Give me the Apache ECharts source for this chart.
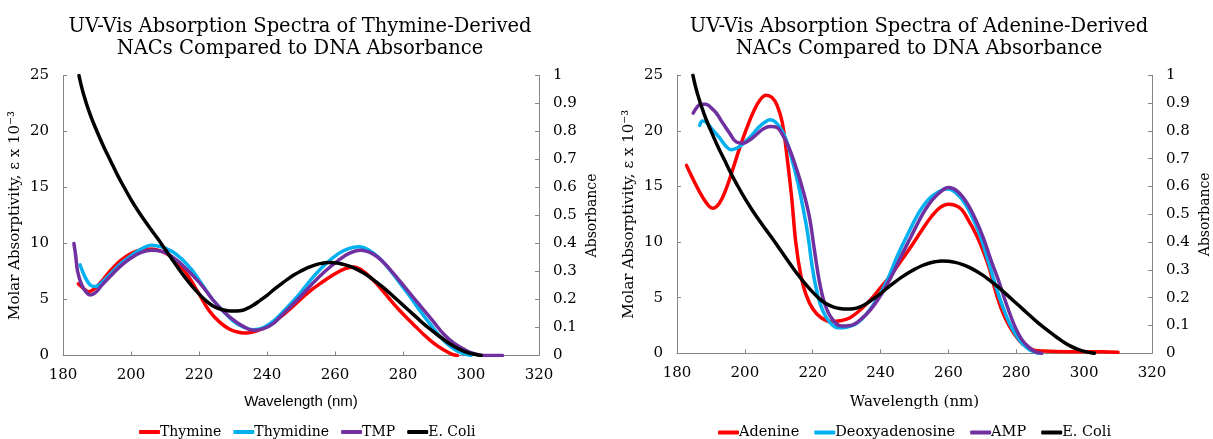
<!DOCTYPE html>
<html><head><meta charset="utf-8">
<script src="https://cdn.jsdelivr.net/npm/echarts@6/dist/echarts.min.js"></script>
<style>html,body{margin:0;padding:0;background:#fff}#c{width:1213px;height:439px}</style>
</head><body><div id="c"></div>
<script>
// ---- Data: [wavelength nm, molar absorptivity x10^-3] ----
const thymine = [[184.5,6.4],[186,6.0],[187.5,5.7],[189,5.9],[191,6.5],[194,7.6],[197,8.5],[200,9.1],[203,9.45],[205,9.5],[208,9.4],[211,9.0],[214,8.2],[217,7.0],[220,5.5],[223,4.0],[226,3.0],[229,2.35],[232,2.05],[234,2.0],[237,2.2],[240,2.6],[244,3.45],[248,4.5],[252,5.6],[256,6.5],[260,7.3],[263,7.75],[265.5,7.9],[268,7.6],[271,6.8],[274,5.8],[277,4.7],[280,3.7],[283,2.8],[286,1.9],[289,1.1],[292,0.5],[294.5,0.1],[296,0.0]];
const thymidine = [[185,8.1],[186.5,7.0],[188,6.3],[189.5,6.15],[191,6.4],[194,7.3],[197,8.2],[200,8.9],[203,9.5],[206,9.85],[209,9.7],[212,9.3],[215,8.6],[218,7.6],[221,6.3],[224,5.0],[227,4.0],[230,3.1],[233,2.55],[236,2.3],[239,2.5],[242,3.1],[245,4.0],[249,5.3],[253,6.8],[257,8.1],[261,9.1],[264,9.55],[267,9.7],[270,9.4],[273,8.7],[276,7.7],[279,6.5],[282,5.3],[285,4.0],[288,2.8],[291,1.65],[294,0.8],[297,0.25],[300,0.0]];
const tmp = [[183.2,10.0],[183.7,9.0],[184.3,7.5],[185.5,6.3],[187,5.6],[188,5.4],[189.5,5.6],[191.5,6.3],[194,7.1],[197,8.0],[200,8.7],[203,9.2],[206,9.4],[209,9.3],[212,8.85],[215,8.1],[218,7.2],[221,6.2],[224,5.0],[227,4.0],[230,3.2],[233,2.6],[236,2.25],[239,2.4],[242,2.9],[245,3.8],[249,5.0],[253,6.3],[257,7.5],[261,8.5],[264,9.1],[267.5,9.4],[271,9.1],[274,8.4],[277,7.4],[280,6.3],[283,5.2],[286,4.1],[289,3.0],[292,1.9],[295,1.1],[298,0.55],[300,0.25],[302.5,0.05],[305,0.0],[309.3,0.0]];
const adenine = [[182.8,16.9],[184.5,15.8],[186.5,14.6],[188.5,13.6],[190.5,13.05],[192.5,13.5],[194.5,14.8],[196.5,16.6],[198.5,18.5],[200.5,20.2],[202.5,21.7],[204.5,22.8],[206.3,23.2],[208,23.0],[209.5,22.3],[211,20.8],[212.5,17.5],[213.8,14.0],[215,10.0],[216.5,7.0],[218,5.3],[220,4.0],[222.5,3.2],[225.5,2.85],[228.5,2.95],[231,3.2],[234,3.9],[237,4.8],[240,5.9],[243,7.0],[246,8.3],[249,9.6],[252,11.0],[255,12.3],[257.5,13.1],[260,13.4],[262,13.3],[264,12.9],[266,11.9],[268,10.8],[270,9.4],[272,7.7],[273.5,6.0],[275,4.5],[277,3.0],[279.5,1.7],[282,0.8],[285,0.3],[288,0.2],[295,0.15],[305,0.15],[310,0.1]];
const deoxyadenosine = [[186.7,20.5],[187.5,20.9],[188.5,20.8],[190.5,20.1],[192.5,19.4],[194.5,18.6],[196,18.3],[198,18.5],[200,19.0],[202,19.6],[204,20.3],[206,20.8],[207.5,21.0],[209,20.8],[211,20.0],[212.5,18.9],[214,17.3],[215.5,15.5],[217,13.3],[218.5,10.8],[220,7.5],[221.5,5.2],[223,3.8],[225,2.8],[227.5,2.3],[230,2.35],[233,2.7],[236,3.6],[239,4.9],[242,6.6],[245,8.8],[248,10.7],[251,12.5],[254,13.8],[257,14.5],[259.5,14.8],[262,14.5],[265,13.4],[268,11.6],[270,10.0],[272,8.0],[274,6.0],[276,4.2],[278,2.7],[280,1.6],[282,0.8],[284,0.3],[286.5,0.0]];
const amp = [[184.8,21.6],[185.8,22.1],[187,22.4],[188.5,22.4],[190,22.1],[191.6,21.6],[193.5,20.7],[195.5,19.8],[197.5,19.0],[199.5,18.9],[201.5,19.2],[203.5,19.7],[205.5,20.2],[207.5,20.4],[209.5,20.3],[211.2,19.6],[213,18.5],[215,16.8],[217,14.8],[219,12.3],[220.5,9.3],[222,6.4],[223.5,4.5],[225.5,3.2],[228.5,2.45],[231,2.5],[234,3.0],[237,3.9],[240,5.2],[243,6.8],[246,8.7],[249,10.5],[252,12.3],[255,13.7],[258,14.6],[260,14.9],[262.5,14.6],[265.5,13.5],[268.5,11.7],[270.5,10.2],[272.5,8.4],[274.7,6.6],[277,4.5],[279.6,2.4],[281.5,1.3],[283.5,0.6],[285.5,0.15],[287.5,0.0]];
// E. coli DNA absorbance (right axis)
const ecoli = [[184.7,1.0],[186,0.935],[188,0.86],[190,0.80],[192,0.745],[194,0.695],[196,0.645],[198,0.60],[200,0.557],[202,0.518],[204,0.482],[206,0.448],[208,0.415],[210,0.38],[212,0.345],[214,0.31],[216,0.277],[218,0.247],[220,0.22],[222,0.196],[224,0.178],[226,0.167],[228,0.161],[230,0.159],[232,0.16],[234,0.167],[236,0.18],[238,0.197],[240,0.215],[242,0.235],[244,0.254],[246,0.272],[248,0.288],[250,0.302],[252,0.314],[254,0.323],[256,0.329],[258,0.332],[260,0.331],[262,0.327],[264,0.32],[266,0.31],[268,0.297],[270,0.282],[272,0.264],[274,0.245],[276,0.224],[278,0.202],[280,0.18],[282,0.158],[284,0.136],[286,0.114],[288,0.094],[290,0.075],[292,0.057],[294,0.04],[296,0.026],[298,0.015],[300,0.007],[302,0.002],[303,0.0]];

const titles = ['UV-Vis Absorption Spectra of Thymine-Derived\nNACs Compared to DNA Absorbance',
                'UV-Vis Absorption Spectra of Adenine-Derived\nNACs Compared to DNA Absorbance'];
const legendLeft = ['Thymine','Thymidine','TMP','E. Coli'];
const legendRight = ['Adenine','Deoxyadenosine','AMP','E. Coli'];
const xName = 'Wavelength (nm)';
const yLeftName = 'Molar Absorptivity, \u03b5 x 10\u207b\u00b3';
const yRightName = 'Absorbance';

const COLORS = {red:'#FF0000', cyan:'#00B0F0', purple:'#7030A0', black:'#000000'};
const SERIF = '"DejaVu Serif", serif';
const axisLineColor = '#868686';

function xAxis(gi){
  return {type:'value', gridIndex:gi, min:180, max:320, interval:20,
    name:xName, nameLocation:'middle', nameGap: gi===0 ? 39 : 41,
    nameTextStyle:{fontFamily: gi===0 ? '"Liberation Sans", sans-serif' : SERIF, fontSize:15, color:'#000'},
    axisLine:{lineStyle:{color:axisLineColor}}, axisTick:{inside:true,length:4,lineStyle:{color:axisLineColor}},
    axisLabel:{fontFamily:SERIF, fontSize:15, color:'#000', margin:12}, splitLine:{show:false}};
}
function yLeft(gi){
  return {type:'value', gridIndex:gi, min:0, max:25, interval:5, position:'left',
    name:yLeftName, nameLocation:'middle', nameGap:40, nameRotate:90,
    nameTextStyle:{fontFamily:SERIF, fontSize:15, color:'#000'},
    axisLine:{show:true, lineStyle:{color:axisLineColor}}, axisTick:{show:true, inside:true, length:4, lineStyle:{color:axisLineColor}},
    axisLabel:{fontFamily:SERIF, fontSize:15, color:'#000', margin:14}, splitLine:{show:false}};
}
function yRight(gi){
  return {type:'value', gridIndex:gi, min:0, max:1, interval:0.1, position:'right',
    name:yRightName, nameLocation:'middle', nameGap:46, nameRotate:90,
    nameTextStyle:{fontFamily:SERIF, fontSize:14, color:'#000'},
    axisLine:{show:true, lineStyle:{color:axisLineColor}}, axisTick:{show:true, inside:true, length:4, lineStyle:{color:axisLineColor}},
    axisLabel:{fontFamily:SERIF, fontSize:15, color:'#000', margin:14,
      formatter: v => (Math.round(v*10)/10).toString()}, splitLine:{show:false}};
}
function line(name, data, color, xi, yi){
  return {name, type:'line', data, xAxisIndex:xi, yAxisIndex:yi, smooth:0.4, showSymbol:false,
    lineStyle:{color, width:3.5, cap:'round', join:'round'}, itemStyle:{color}, z: name==='E. Coli'?3:2};
}
function legend(data, left, fs, gap){
  return {data, left, top:420, icon:'roundRect', itemWidth:21, itemHeight:4, itemGap:gap,
    textStyle:{fontFamily:SERIF, fontSize:fs, color:'#000', padding:[0,0,0,-5]}};
}

const chart = echarts.init(document.getElementById('c'), null, {renderer:'canvas'});
chart.setOption({
  animation:false,
  backgroundColor:'#fff',
  title:[
    {text:titles[0], left:295, top:11, textAlign:'center', textStyle:{fontFamily:SERIF, fontSize:19.5, fontWeight:'normal', color:'#000', lineHeight:22}},
    {text:titles[1], left:914, top:11, textAlign:'center', textStyle:{fontFamily:SERIF, fontSize:19.5, fontWeight:'normal', color:'#000', lineHeight:22}}
  ],
  legend:[ legend(legendLeft, 134, 14, 12), legend(legendRight, 713, 14.5, 15) ],
  grid:[
    {left:63, top:75.5, width:476, height:280},
    {left:677, top:75.3, width:477, height:278}
  ],
  xAxis:[xAxis(0), xAxis(1)],
  yAxis:[yLeft(0), yRight(0), yLeft(1), yRight(1)],
  series:[
    line('Thymine', thymine, COLORS.red, 0, 0),
    line('Thymidine', thymidine, COLORS.cyan, 0, 0),
    line('TMP', tmp, COLORS.purple, 0, 0),
    line('E. Coli', ecoli, COLORS.black, 0, 1),
    line('Adenine', adenine, COLORS.red, 1, 2),
    line('Deoxyadenosine', deoxyadenosine, COLORS.cyan, 1, 2),
    line('AMP', amp, COLORS.purple, 1, 2),
    line('E. Coli', ecoli, COLORS.black, 1, 3)
  ]
});
</script></body></html>
